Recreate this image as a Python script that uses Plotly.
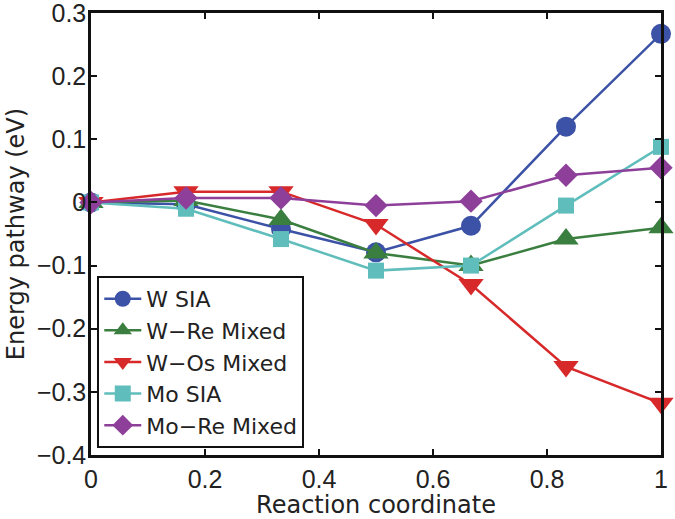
import plotly.graph_objects as go

x = [0, 1/6, 2/6, 3/6, 4/6, 5/6, 1]
names = ["W SIA", "W\u2212Re Mixed", "W\u2212Os Mixed", "Mo SIA", "Mo\u2212Re Mixed"]
w_sia = [0, -0.003, -0.042, -0.079, -0.037, 0.12, 0.267]
w_re = [0, 0.003, -0.027, -0.080, -0.100, -0.058, -0.040]
w_os = [0, 0.017, 0.017, -0.035, -0.130, -0.260, -0.318]
mo_sia = [0, -0.010, -0.058, -0.108, -0.100, -0.005, 0.088]
mo_re = [0, 0.007, 0.007, -0.005, 0.002, 0.043, 0.055]
series = [w_sia, w_re, w_os, mo_sia, mo_re]
colors = ["#3C52A6", "#3A7F3F", "#D7282A", "#5FBDBB", "#8E3F9A"]
symbols = ["circle", "triangle-up", "triangle-down", "square", "diamond"]
sizes = [20, 22, 22, 16, 18]

fig = go.Figure()
for n, s, c, sym, sz in zip(names, series, colors, symbols, sizes):
    fig.add_trace(go.Scatter(x=x, y=s, name=n, mode="lines+markers",
                             line=dict(color=c, width=2.5),
                             marker=dict(symbol=sym, size=sz, color=c),
                             cliponaxis=False))

tickfont = dict(family="Liberation Sans, Arial, sans-serif", size=25, color="#222")
textfont = dict(family="DejaVu Sans, sans-serif", size=24, color="#222")
fig.update_layout(
    width=675, height=519,
    margin=dict(l=91, r=14, t=13, b=64),
    paper_bgcolor="white", plot_bgcolor="white",
    font=textfont,
    showlegend=True,
    legend=dict(x=0.011, y=0.016, xanchor="left", yanchor="bottom",
                bordercolor="#111", borderwidth=2, bgcolor="white",
                font=dict(family="DejaVu Sans, sans-serif", size=22, color="#222"),
                tracegroupgap=0, itemwidth=37),
    xaxis=dict(range=[0, 1], tickvals=[0, 0.2, 0.4, 0.6, 0.8, 1],
               ticktext=["0", "0.2", "0.4", "0.6", "0.8", "1"],
               tickfont=tickfont, ticklabeloverflow="allow",
               ticks="inside", ticklen=6, tickwidth=2, tickcolor="#111",
               showline=True, linecolor="#111", linewidth=2.5, mirror="ticks",
               showgrid=False, zeroline=False, automargin=False,
               title=dict(text="Reaction coordinate", standoff=9, font=textfont)),
    yaxis=dict(range=[-0.4, 0.3], tickvals=[-0.4, -0.3, -0.2, -0.1, 0, 0.1, 0.2, 0.3],
               ticktext=["\u22120.4", "\u22120.3", "\u22120.2", "\u22120.1", "0", "0.1", "0.2", "0.3"],
               tickfont=tickfont, ticklabeloverflow="allow", ticklabelstandoff=-3,
               ticks="inside", ticklen=6, tickwidth=2, tickcolor="#111",
               showline=True, linecolor="#111", linewidth=2.5, mirror="ticks",
               showgrid=False, zeroline=False, automargin=False,
               title=dict(text="Energy pathway (eV)", standoff=6, font=textfont)),
)
fig.write_html("out.html", config={"displayModeBar": False},
               post_script="document.body.style.margin='0px';")
